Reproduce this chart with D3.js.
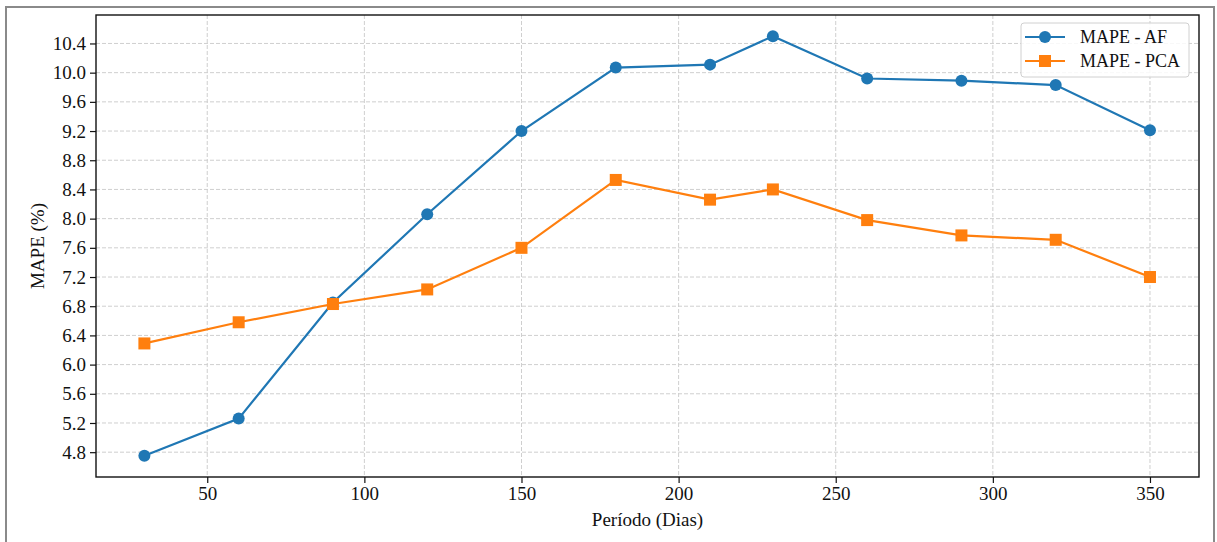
<!DOCTYPE html>
<html>
<head>
<meta charset="utf-8">
<script src="https://cdn.jsdelivr.net/npm/d3@7"></script>
<style>
  body { margin: 0; background: #fff; }
  text { font-family: "Liberation Serif", "Times New Roman", serif; fill: #111; }
</style>
</head>
<body>
<svg id="chart" width="1217" height="542"></svg>
<script>
// data
let periods = [30, 60, 90, 120, 150, 180, 210, 230, 260, 290, 320, 350];
let mapeAF = [4.75, 5.26, 6.85, 8.06, 9.20, 10.07, 10.11, 10.50, 9.92, 9.89, 9.83, 9.21];
let mapePCA = [6.29, 6.58, 6.83, 7.03, 7.60, 8.53, 8.26, 8.40, 7.98, 7.77, 7.71, 7.20];
let xTicks = [50, 100, 150, 200, 250, 300, 350];
let yTicks = [4.8, 5.2, 5.6, 6.0, 6.4, 6.8, 7.2, 7.6, 8.0, 8.4, 8.8, 9.2, 9.6, 10.0, 10.4];
let seriesNames = ["MAPE - AF", "MAPE - PCA"];

let plotLeft = 96, plotRight = 1199, plotTop = 15, plotBottom = 477;
let blue = "#1f77b4", orange = "#ff7f0e";

let svg = d3.select("#chart");

// outer frame of the figure
svg.append("rect")
  .attr("x", 6).attr("y", 7)
  .attr("width", 1208).attr("height", 545)
  .attr("fill", "none")
  .attr("stroke", "#8a8a8a")
  .attr("stroke-width", 2);

let x = d3.scaleLinear().domain([14.6, 365.6]).range([plotLeft, plotRight]);
let y = d3.scaleLinear().domain([4.46, 10.79]).range([plotBottom, plotTop]);

// grid
svg.append("g")
  .selectAll("line")
  .data(xTicks)
  .join("line")
  .attr("x1", d => x(d)).attr("x2", d => x(d))
  .attr("y1", plotTop).attr("y2", plotBottom)
  .attr("stroke", "#cfcfcf")
  .attr("stroke-dasharray", "4,2")
  .attr("stroke-width", 1);

svg.append("g")
  .selectAll("line")
  .data(yTicks)
  .join("line")
  .attr("x1", plotLeft).attr("x2", plotRight)
  .attr("y1", d => y(d)).attr("y2", d => y(d))
  .attr("stroke", "#cfcfcf")
  .attr("stroke-dasharray", "4,2")
  .attr("stroke-width", 1);

// axes
let xAxis = svg.append("g")
  .attr("transform", `translate(0, ${plotBottom})`)
  .call(d3.axisBottom(x).tickValues(xTicks).tickSize(6).tickPadding(4).tickFormat(d3.format("d")));

let yAxis = svg.append("g")
  .attr("transform", `translate(${plotLeft}, 0)`)
  .call(d3.axisLeft(y).tickValues(yTicks).tickSize(6).tickPadding(4).tickFormat(d3.format(".1f")));

[xAxis, yAxis].forEach(a => {
  a.select(".domain").remove();
  a.selectAll("line").attr("stroke", "#111").attr("stroke-width", 1.2);
  a.selectAll("text")
    .style("font-family", "'Liberation Serif', 'Times New Roman', serif")
    .style("font-size", "19px")
    .attr("fill", "#111");
});

// plot frame
svg.append("rect")
  .attr("x", plotLeft).attr("y", plotTop)
  .attr("width", plotRight - plotLeft).attr("height", plotBottom - plotTop)
  .attr("fill", "none")
  .attr("stroke", "#111")
  .attr("stroke-width", 1.4);

// lines
let line = d3.line().x((d, i) => x(periods[i])).y(d => y(d));

svg.append("path")
  .datum(mapeAF)
  .attr("d", line)
  .attr("fill", "none")
  .attr("stroke", blue)
  .attr("stroke-width", 2.2);

svg.append("g")
  .selectAll("circle")
  .data(mapeAF)
  .join("circle")
  .attr("cx", (d, i) => x(periods[i]))
  .attr("cy", d => y(d))
  .attr("r", 6)
  .attr("fill", blue);

svg.append("path")
  .datum(mapePCA)
  .attr("d", line)
  .attr("fill", "none")
  .attr("stroke", orange)
  .attr("stroke-width", 2.2);

svg.append("g")
  .selectAll("rect")
  .data(mapePCA)
  .join("rect")
  .attr("x", (d, i) => x(periods[i]) - 6)
  .attr("y", d => y(d) - 6)
  .attr("width", 12)
  .attr("height", 12)
  .attr("fill", orange);

// axis labels
svg.append("text")
  .attr("x", (plotLeft + plotRight) / 2)
  .attr("y", 526)
  .attr("text-anchor", "middle")
  .style("font-size", "19px")
  .text("Período (Dias)");

svg.append("text")
  .attr("transform", `translate(44, ${(plotTop + plotBottom) / 2}) rotate(-90)`)
  .attr("text-anchor", "middle")
  .style("font-size", "19px")
  .text("MAPE (%)");

// legend
let legend = svg.append("g").attr("transform", "translate(1021, 23)");
legend.append("rect")
  .attr("width", 168).attr("height", 54)
  .attr("rx", 3)
  .attr("fill", "#fff")
  .attr("fill-opacity", 0.85)
  .attr("stroke", "#d0d0d0");

seriesNames.forEach((name, i) => {
  let ly = 14 + i * 24;
  let col = i == 0 ? blue : orange;
  legend.append("line")
    .attr("x1", 4).attr("x2", 44)
    .attr("y1", ly).attr("y2", ly)
    .attr("stroke", col).attr("stroke-width", 2.2);
  if (i == 0) {
    legend.append("circle").attr("cx", 24).attr("cy", ly).attr("r", 6).attr("fill", col);
  } else {
    legend.append("rect").attr("x", 18).attr("y", ly - 6).attr("width", 12).attr("height", 12).attr("fill", col);
  }
  legend.append("text")
    .attr("x", 59).attr("y", ly + 6)
    .style("font-size", "18px")
    .text(name);
});
</script>
</body>
</html>
